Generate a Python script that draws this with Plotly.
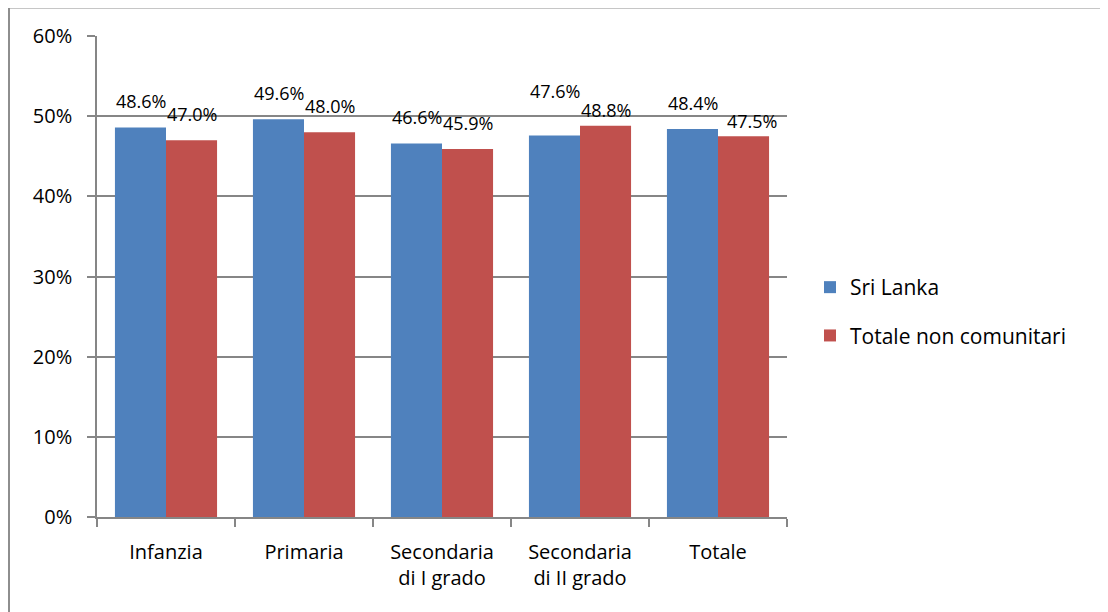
import plotly.graph_objects as go

categories = ["Infanzia", "Primaria", "Secondaria<br>di I grado", "Secondaria<br>di II grado", "Totale"]
sri_lanka = [48.6, 49.6, 46.6, 47.6, 48.4]
totale_nc = [47.0, 48.0, 45.9, 48.8, 47.5]
y_ticks = [0, 10, 20, 30, 40, 50, 60]
y_tick_labels = ["0%", "10%", "20%", "30%", "40%", "50%", "60%"]

# manual label nudges (pixels), as placed in the original
sri_label_dy = [0, 0, 0, 18, 0]
tnc_label_dy = [0, 0, 0, -10, -11]
tnc_label_dx = [0, 0, 0, 0, 8]

BLUE = "#4f81bd"
RED = "#c0504d"
FONT = "Open Sans"

OFF = 8  # page offset of the figure (body margin)
W, H = 1108 - OFF, 612 - OFF
# plot area in page pixels
L, R, T, B = 97, 787, 36, 517
l_m, t_m = L - OFF, T - OFF
r_m = W - l_m - (R - L)
b_m = H - t_m - (B - T)

fig = go.Figure()
fig.add_trace(go.Bar(x=categories, y=sri_lanka, name="Sri Lanka", marker_color=BLUE,
                     legendgroup="a", marker_line_width=0))
fig.add_trace(go.Bar(x=categories, y=totale_nc, name="Totale non comunitari", marker_color=RED,
                     legendgroup="b", marker_line_width=0))

BASE_DY = 12
annotations = []
for vals, shift, dys, dxs in ((sri_lanka, -25.5, sri_label_dy, [0] * 5),
                              (totale_nc, 25.5, tnc_label_dy, tnc_label_dx)):
    for c, v, dy, dx in zip(categories, vals, dys, dxs):
        annotations.append(dict(x=c, y=v, xref="x", yref="y", text=f"{v:.1f}%",
                                showarrow=False, xshift=shift + dx, yanchor="bottom",
                                yshift=BASE_DY + dy,
                                font=dict(family=FONT, size=18, color="#000000")))

def px_x(p):
    return (p - L) / (R - L)

def px_y(p):
    return (B - p) / (B - T)

shapes = [dict(type="rect", xref="paper", yref="paper", layer="below",
               x0=px_x(9), x1=px_x(1140), y0=px_y(650), y1=px_y(7.5),
               fillcolor="white", line=dict(color="#8e8e8e", width=2))]

fig.update_layout(
    width=W, height=H,
    margin=dict(l=l_m, r=r_m, t=t_m, b=b_m, pad=0),
    paper_bgcolor="#dbe5f1",
    plot_bgcolor="rgba(0,0,0,0)",
    barmode="group",
    bargap=0.26,
    bargroupgap=0,
    font=dict(family=FONT, size=20, color="#000000"),
    showlegend=True,
    legend=dict(x=px_x(810), y=px_y(267), xanchor="left", yanchor="top",
                font=dict(family=FONT, size=21, color="#000000"),
                tracegroupgap=18, itemwidth=30, bgcolor="rgba(0,0,0,0)"),
    xaxis=dict(showline=True, linecolor="#868686", linewidth=1.5,
               ticks="outside", ticklen=8, tickcolor="#868686", tickwidth=1.5,
               tickson="boundaries", showgrid=False, ticklabelstandoff=16,
               tickfont=dict(family=FONT, size=20)),
    yaxis=dict(range=[0, 60], tickvals=y_ticks, ticktext=y_tick_labels,
               showline=True, linecolor="#868686", linewidth=1.5,
               ticks="outside", ticklen=8, tickcolor="#868686", tickwidth=1.5,
               showgrid=True, gridcolor="#868686", gridwidth=1.5,
               zeroline=False, ticklabelstandoff=11,
               tickfont=dict(family=FONT, size=20)),
    annotations=annotations,
    shapes=shapes,
)

fig.write_html("out.html")
